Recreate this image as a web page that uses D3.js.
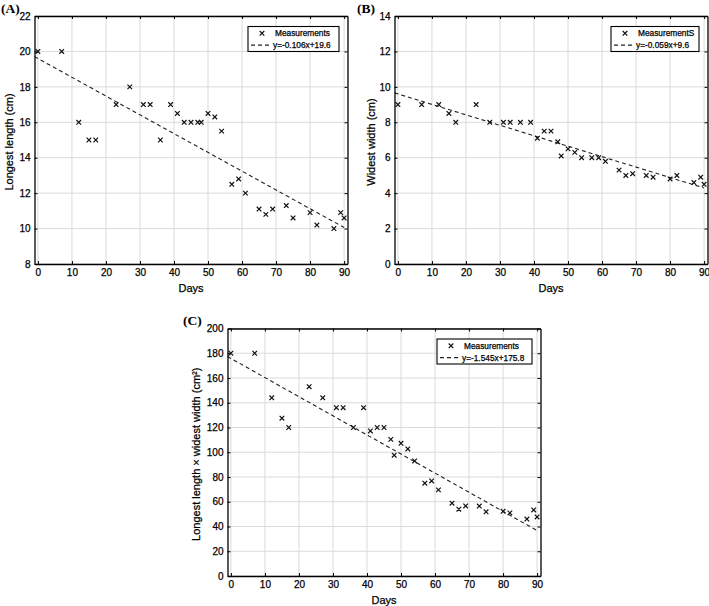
<!DOCTYPE html>
<html>
<head>
<meta charset="utf-8">
<script src="https://cdn.jsdelivr.net/npm/d3@7"></script>
<style>
  html, body { margin: 0; padding: 0; background: #fff; }
  svg { display: block; }
</style>
</head>
<body>
<svg id="chart" width="709" height="606"></svg>
<script>
// ---------------- DATA ----------------
const days = [0, 7, 12, 15, 17, 23, 27, 31, 33, 36, 39, 41, 43, 45, 47, 48,
              50, 52, 54, 57, 59, 61, 65, 67, 69, 73, 75, 80, 82, 87, 89, 90];
const longestLength = [20, 20, 16, 15, 15, 17, 18, 17, 17, 15, 17, 16.5, 16, 16, 16, 16,
                       16.5, 16.3, 15.5, 12.5, 12.8, 12, 11.1, 10.8, 11.1, 11.3, 10.6, 10.9, 10.2, 10, 10.9, 10.6];
const widestWidth = [9, 9, 9, 8.5, 8, 9, 8, 8, 8, 8, 8, 7.1, 7.5, 7.5, 6.9, 6.1,
                     6.5, 6.3, 6.0, 6.0, 6.0, 5.8, 5.3, 5.0, 5.1, 5.0, 4.9, 4.8, 5.0, 4.6, 4.9, 4.5];
const lengthTimesWidth = [180, 180, 144, 127.5, 120, 153, 144, 136, 136, 120, 136, 117.2, 120, 120, 110.4, 97.6,
                          107.2, 102.7, 93, 75, 76.8, 69.6, 58.8, 54, 56.6, 56.5, 51.9, 52.3, 51, 46, 53.4, 47.7];
// linear fits shown in the legends: [slope, intercept]
const fitLength = [-0.106, 19.6];
const fitWidth  = [-0.059, 9.6];
const fitArea   = [-1.545, 175.8];
const fitLabels = ["y=-0.106x+19.6", "y=-0.059x+9.6", "y=-1.545x+175.8"];
const seriesLabels = ["Measurements", "MeasurementS", "Measurements"];
const xTicks = [0, 10, 20, 30, 40, 50, 60, 70, 80, 90];
const yTicksLength = [8, 10, 12, 14, 16, 18, 20, 22];
const yTicksWidth = [0, 2, 4, 6, 8, 10, 12, 14];
const yTicksArea = [0, 20, 40, 60, 80, 100, 120, 140, 160, 180, 200];
const panelTitles = ["(A)", "(B)", "(C)"];
const yLabels = ["Longest length (cm)", "Widest width (cm)", "Longest length \u00D7  widest width (cm\u00B2)"];
const xLabel = "Days";

// ---------------- DRAWING ----------------
const svg = d3.select("#chart");
const FONT = "'Liberation Sans', Arial, Helvetica, sans-serif";
const heavy = sel => sel.attr("stroke", "#000").attr("stroke-width", 0.25).attr("paint-order", "stroke");

function panel(opt) {
  const { left, top, right, bottom, values, fit, yTicks, yDomain, title, titlePos,
          yLabel, yLabelX, series, fitLabel, legendW } = opt;
  const W = right - left, H = bottom - top;
  const g = svg.append("g").attr("transform", `translate(${left},${top})`);
  const x = d3.scaleLinear().domain([-1, 91]).range([0, W]);
  const y = d3.scaleLinear().domain(yDomain).range([H, 0]);

  // grid
  const grid = g.append("g").attr("class", "grid");
  grid.selectAll("line.gx").data(xTicks).join("line")
    .attr("x1", d => x(d)).attr("x2", d => x(d)).attr("y1", 0).attr("y2", H)
    .attr("stroke", "#dadada").attr("stroke-width", 1);
  grid.selectAll("line.gy").data(yTicks).join("line")
    .attr("y1", d => y(d)).attr("y2", d => y(d)).attr("x1", 0).attr("x2", W)
    .attr("stroke", "#dadada").attr("stroke-width", 1);

  // fit line
  const fitLine = d3.line().x(d => x(d)).y(d => y(fit[0] * d + fit[1]));
  g.append("path").datum([-1, 90]).attr("d", fitLine)
    .attr("fill", "none").attr("stroke", "#222").attr("stroke-width", 1.1)
    .attr("stroke-dasharray", "4,3");

  // markers
  g.selectAll("path.mk").data(days.map((d, i) => [d, values[i]])).join("path")
    .attr("class", "mk")
    .attr("transform", d => `translate(${x(d[0])},${y(d[1])})`)
    .attr("d", "M-2.3,-2.3L2.3,2.3M-2.3,2.3L2.3,-2.3")
    .attr("stroke", "#111").attr("stroke-width", 1.2).attr("fill", "none");

  // axes
  const styleAxis = sel => {
    sel.attr("font-family", FONT).attr("font-size", 10);
    sel.select(".domain").attr("stroke", "#000").attr("stroke-width", 1.3);
    sel.selectAll(".tick line").attr("stroke", "#000").attr("stroke-width", 1);
    sel.selectAll(".tick text").attr("fill", "#000").call(heavy);
  };
  g.append("g").attr("transform", `translate(0,${H})`)
    .call(d3.axisBottom(x).tickValues(xTicks).tickSize(-3).tickPadding(5).tickSizeOuter(0))
    .call(styleAxis);
  g.append("g")
    .call(d3.axisTop(x).tickValues(xTicks).tickSize(-3).tickFormat("").tickSizeOuter(0))
    .call(styleAxis);
  g.append("g")
    .call(d3.axisLeft(y).tickValues(yTicks).tickSize(-3).tickPadding(4).tickSizeOuter(0))
    .call(styleAxis);
  g.append("g").attr("transform", `translate(${W},0)`)
    .call(d3.axisRight(y).tickValues(yTicks).tickSize(-3).tickFormat("").tickSizeOuter(0))
    .call(styleAxis);

  // x label
  g.append("text").attr("x", W / 2).attr("y", H + 28)
    .attr("text-anchor", "middle").attr("font-family", FONT).attr("font-size", 11)
    .call(heavy).text(xLabel);
  // y label
  g.append("text")
    .attr("transform", `translate(${yLabelX - left},${H / 2 + 2}) rotate(-90)`)
    .attr("text-anchor", "middle").attr("dominant-baseline", "central")
    .attr("font-family", FONT).attr("font-size", 11)
    .call(heavy).text(yLabel);

  // legend
  const lgH = 25, lgX = W - 8.5 - legendW, lgY = 10.5;
  const lg = g.append("g").attr("transform", `translate(${lgX},${lgY})`);
  lg.append("rect").attr("width", legendW).attr("height", lgH)
    .attr("fill", "#fff").attr("stroke", "#000").attr("stroke-width", 1.1);
  lg.append("path").attr("transform", "translate(14,6.8)")
    .attr("d", "M-2.3,-2.3L2.3,2.3M-2.3,2.3L2.3,-2.3")
    .attr("stroke", "#111").attr("stroke-width", 1.2);
  lg.append("text").attr("x", 27).attr("y", 9.8)
    .attr("font-family", FONT).attr("font-size", 8.3).call(heavy).text(series);
  lg.append("line").attr("x1", 3).attr("x2", 23).attr("y1", 18.6).attr("y2", 18.6)
    .attr("stroke", "#222").attr("stroke-width", 1.1).attr("stroke-dasharray", "4,3");
  lg.append("text").attr("x", 25).attr("y", 21.6)
    .attr("font-family", FONT).attr("font-size", 8.3).call(heavy).text(fitLabel);

  // panel title
  svg.append("text").attr("x", titlePos[0]).attr("y", titlePos[1])
    .attr("font-family", "'Liberation Serif', 'Times New Roman', serif")
    .attr("font-weight", "bold").attr("font-size", 13.5).text(title);
}

panel({ left: 34.5, top: 16, right: 347.5, bottom: 264, values: longestLength, fit: fitLength,
        yTicks: yTicksLength, yDomain: [8, 22], title: panelTitles[0], titlePos: [1, 13],
        yLabel: yLabels[0], yLabelX: 8.5, series: seriesLabels[0], fitLabel: fitLabels[0], legendW: 91 });
panel({ left: 394.5, top: 16, right: 707.5, bottom: 264, values: widestWidth, fit: fitWidth,
        yTicks: yTicksWidth, yDomain: [0, 14], title: panelTitles[1], titlePos: [357, 13],
        yLabel: yLabels[1], yLabelX: 370.5, series: seriesLabels[1], fitLabel: fitLabels[1], legendW: 88 });
panel({ left: 227.5, top: 328.5, right: 540.5, bottom: 576, values: lengthTimesWidth, fit: fitArea,
        yTicks: yTicksArea, yDomain: [0, 200], title: panelTitles[2], titlePos: [183, 325],
        yLabel: yLabels[2], yLabelX: 196, series: seriesLabels[2], fitLabel: fitLabels[2], legendW: 95 });
</script>
</body>
</html>
